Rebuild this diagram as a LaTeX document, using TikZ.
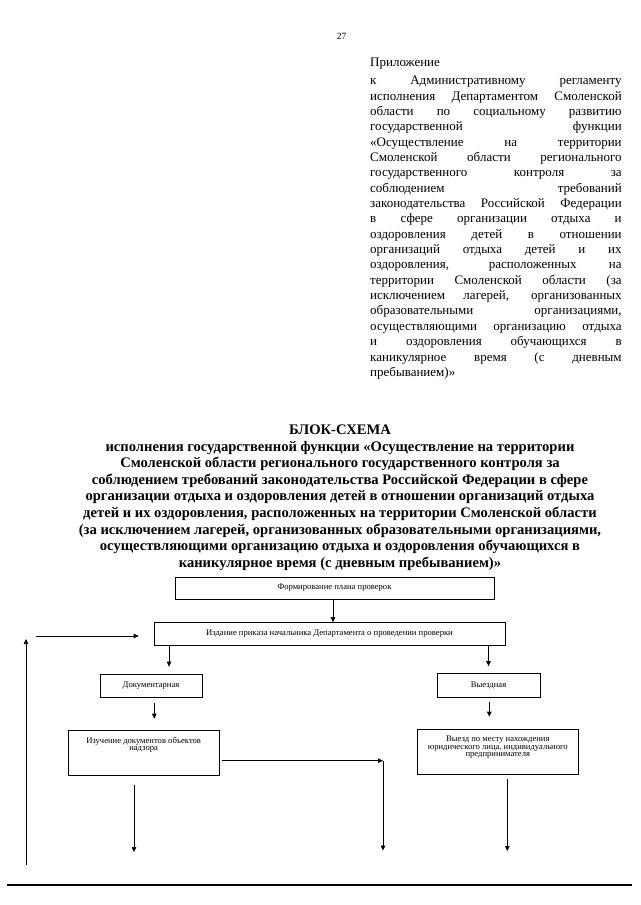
\documentclass[tikz,border=0pt]{standalone}
\usepackage{fontspec}
\setmainfont{Liberation Serif}
\usetikzlibrary{arrows.meta,calc}
\newcommand\apln[1]{\makebox[\linewidth][s]{#1}\par}
\begin{document}
\begin{tikzpicture}[x=1pt,y=-1pt,
  box/.style={draw, line width=0.7pt, inner sep=0pt, font=\fontsize{8.6}{7.6}\selectfont, align=center},
  arr/.style={line width=0.7pt, -{Triangle[length=5pt,width=4.5pt]}},
  txt/.style={inner sep=0pt}]
\useasboundingbox[fill=white] (0,0) rectangle (640,905);

\node[txt, anchor=base] (pnum) at (341.7,39.7) {\fontsize{9.5}{11}\selectfont 27};

\node[txt, anchor=base west] (appx) at (370,66.3) {\parbox[t]{251.5pt}{\fontsize{13}{15.35}\selectfont
Приложение\par\vspace{3.05pt}
\apln{к Административному регламенту}
\apln{исполнения Департаментом Смоленской}
\apln{области по социальному развитию}
\apln{государственной функции}
\apln{«Осуществление на территории}
\apln{Смоленской области регионального}
\apln{государственного контроля за}
\apln{соблюдением требований}
\apln{законодательства Российской Федерации}
\apln{в сфере организации отдыха и}
\apln{оздоровления детей в отношении}
\apln{организаций отдыха детей и их}
\apln{оздоровления, расположенных на}
\apln{территории Смоленской области (за}
\apln{исключением лагерей, организованных}
\apln{образовательными организациями,}
\apln{осуществляющими организацию отдыха}
\apln{и оздоровления обучающихся в}
\apln{каникулярное время (с дневным}
пребыванием)»}};

\node[txt, anchor=base] (title) at (340,434.5) {\parbox[t]{620pt}{\centering\bfseries\fontsize{14.6}{16.6}\selectfont
БЛОК-СХЕМА\\
исполнения государственной функции «Осуществление на территории\\
Смоленской области регионального государственного контроля за\\
соблюдением требований законодательства Российской Федерации в сфере\\
организации отдыха и оздоровления детей в отношении организаций отдыха\\
детей и их оздоровления, расположенных на территории Смоленской области\\
(за исключением лагерей, организованных образовательными организациями,\\
осуществляющими организацию отдыха и оздоровления обучающихся в\\
каникулярное время (с дневным пребыванием)»}};

\node[box, minimum width=319pt, minimum height=22pt] (b1) at (334.5,588) {Формирование плана проверок};
\node[box, minimum width=351pt, minimum height=22.5pt] (b2) at (329.5,633.75) {Издание приказа начальника Департамента о проведении проверки};
\node[box, minimum width=102pt, minimum height=23pt] (b3) at (151,685.5) {Документарная};
\node[box, minimum width=103pt, minimum height=23.5pt] (b4) at (488.5,685.2) {Выездная};
\node[box] (b5) at (143.65,752.85) {\parbox[b][45.7pt][t]{150.7pt}{\centering\vspace*{7pt}Изучение документов объектов\\надзора}};
\node[box] (b6) at (497.8,751.5) {\parbox[b][45pt][t]{161pt}{\centering\vspace*{7pt}Выезд по месту нахождения\\юридического лица, индивидуального\\предпринимателя}};

\coordinate (x1) at (333,0);
\coordinate (xa) at (169,0);
\coordinate (xb) at (154.3,0);
\coordinate (xc) at (489.3,0);
\draw[arr] (b1.south -| x1) -- (b2.north -| x1);
\draw[arr, shorten >=7pt] (b2.south -| xa) -- (b3.north -| xa);
\draw[arr, shorten >=7pt] (b2.south -| b4.north) -- (b4.north);
\draw[arr, shorten <=5.5pt, shorten >=11pt] (b3.south -| xb) -- (b5.north -| xb);
\draw[arr, shorten <=5pt, shorten >=12pt] (b4.south -| xc) -- (b6.north -| xc);

\coordinate (cr) at (383,760.7);
\coordinate (e2) at (383,850.5);
\draw[arr, shorten <=3pt] (b5.east |- cr) -- (cr);
\draw[arr] (cr) -- (e2);
\coordinate (e1) at (134,852);
\draw[arr, shorten <=9pt] (b5.south -| e1) -- (e1);
\coordinate (e3) at (507.3,851);
\draw[arr, shorten <=5pt] (b6.south -| e3) -- (e3);

\coordinate (lb) at (26,865);
\coordinate (lt) at (26,639);
\draw[arr] (lb) -- (lt);
\coordinate (lh) at (36,636);
\draw[arr, shorten >=15pt] (lh) -- (b2.west |- lh);

\coordinate (r1) at (7,885);
\coordinate (r2) at (632,885);
\draw[line width=1.6pt] (r1) -- (r2);
\end{tikzpicture}
\end{document}
